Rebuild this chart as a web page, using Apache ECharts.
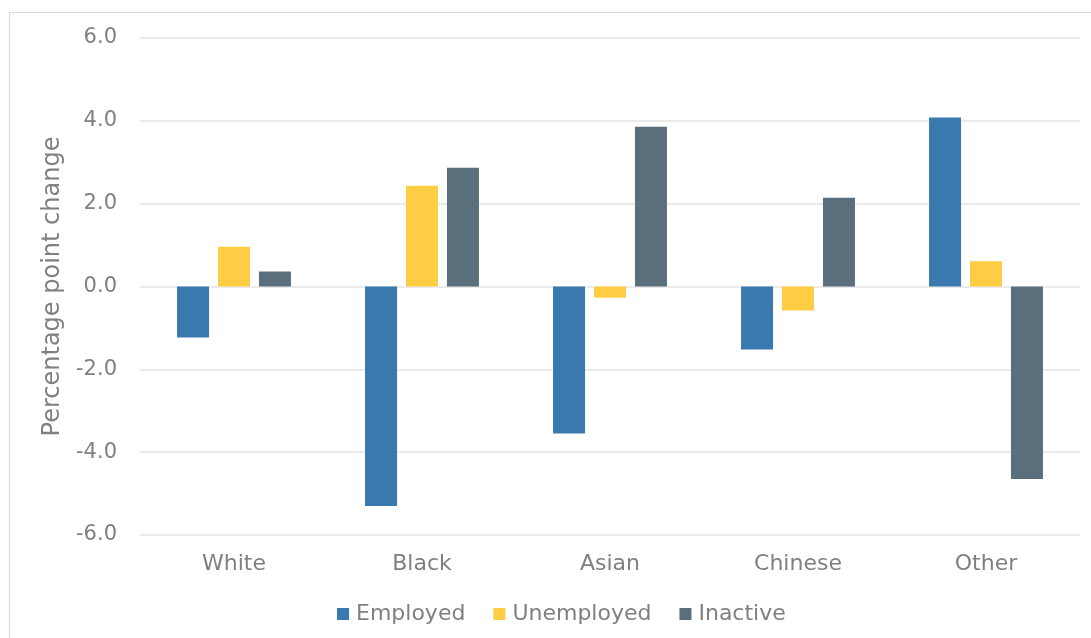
<!DOCTYPE html>
<html><head><meta charset="utf-8">
<script src="https://cdn.jsdelivr.net/npm/echarts@6/dist/echarts.min.js"></script>
<style>
html,body{margin:0;padding:0;background:#fff;}
#frame{position:absolute;left:9px;top:12px;width:1100px;height:640px;border:1px solid #d9d9d9;box-sizing:border-box;}
#c{position:absolute;left:0;top:0;width:1091px;height:638px;}
</style></head>
<body>
<div id="frame"></div>
<div id="c"></div>
<script>
const categories = ['White','Black','Asian','Chinese','Other'];
const employed = [-1.23, -5.3, -3.55, -1.52, 4.08];
const unemployed = [0.96, 2.43, -0.27, -0.58, 0.61];
const inactive = [0.36, 2.87, 3.86, 2.14, -4.65];
const seriesNames = ['Employed','Unemployed','Inactive'];
const colors = ['#3A78B0','#FFCD44','#5A6E7B'];

const chart = echarts.init(document.getElementById('c'));
const font = 'DejaVu Sans, sans-serif';
const grey = '#808080';
const mk = (name, data, i) => ({
  name, type:'bar', data, barWidth:32, barGap:'28%',
  itemStyle:{color:colors[i]}
});
chart.setOption({
  animation:false,
  color:colors,
  grid:{left:140, right:11, top:38, bottom:103},
  legend:{
    data:seriesNames, top:598, left:332, itemWidth:12, itemHeight:12, itemGap:28,
    icon:'rect', textStyle:{color:grey, fontSize:22, fontFamily:font, padding:[0,0,0,2]}
  },
  xAxis:{
    type:'category', data:categories,
    axisLine:{show:false}, axisTick:{show:false},
    axisLabel:{color:grey, fontSize:22, fontFamily:font, margin:18, interval:0}
  },
  yAxis:{
    type:'value', min:-6, max:6, interval:2,
    name:'Percentage point change', nameLocation:'middle', nameGap:73,
    nameTextStyle:{color:grey, fontSize:24, fontFamily:font},
    axisLabel:{color:grey, fontSize:21, fontFamily:font, margin:23, formatter:v=>v.toFixed(1)},
    splitLine:{lineStyle:{color:'#e3e3e3', width:1.5}},
    axisLine:{show:false}, axisTick:{show:false}
  },
  series:[mk(seriesNames[0],employed,0), mk(seriesNames[1],unemployed,1), mk(seriesNames[2],inactive,2)]
});
</script>
</body></html>
